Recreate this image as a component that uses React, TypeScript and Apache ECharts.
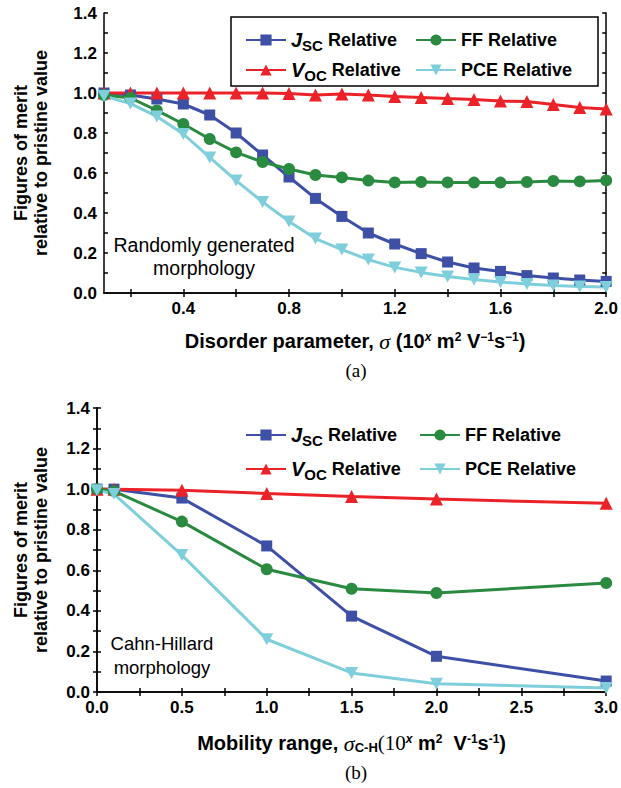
import React, { useEffect, useRef } from 'react';
import * as echarts from 'echarts';

const FONT = 'Liberation Sans, Arial, sans-serif';
const SERIF = 'Liberation Serif, Times New Roman, serif';

// ---- Panel (a): randomly generated morphology ----
const X_A = [0.1, 0.2, 0.3, 0.4, 0.5, 0.6, 0.7, 0.8, 0.9, 1.0, 1.1, 1.2, 1.3, 1.4, 1.5, 1.6, 1.7, 1.8, 1.9, 2.0];
const JSC_A = [1.0, 0.99, 0.97, 0.945, 0.89, 0.8, 0.69, 0.58, 0.473, 0.383, 0.3, 0.245, 0.197, 0.155, 0.125, 0.108, 0.087, 0.075, 0.065, 0.058];
const VOC_A = [1.0, 1.0, 1.0, 1.0, 1.0, 1.0, 1.0, 0.997, 0.99, 0.995, 0.99, 0.983, 0.978, 0.972, 0.967, 0.96, 0.957, 0.942, 0.928, 0.92];
const FF_A = [0.99, 0.975, 0.913, 0.845, 0.77, 0.703, 0.655, 0.62, 0.59, 0.578, 0.562, 0.553, 0.555, 0.553, 0.552, 0.552, 0.555, 0.56, 0.558, 0.563];
const PCE_A = [0.985, 0.947, 0.883, 0.795, 0.678, 0.562, 0.455, 0.358, 0.272, 0.217, 0.167, 0.128, 0.103, 0.083, 0.067, 0.055, 0.045, 0.037, 0.033, 0.03];
const XLABELS_A = [0.4, 0.8, 1.2, 1.6, 2.0];
const XTICKS_A = [0.2, 0.4, 0.6, 0.8, 1.0, 1.2, 1.4, 1.6, 1.8, 2.0];

// ---- Panel (b): Cahn-Hillard morphology ----
const X_B = [0, 0.1, 0.5, 1.0, 1.5, 2.0, 3.0];
const JSC_B = [1.0, 1.0, 0.956, 0.72, 0.374, 0.176, 0.054];
const VOC_B = [1.0, 1.0, 0.995, 0.979, 0.964, 0.951, 0.93];
const FF_B = [1.0, 0.99, 0.84, 0.605, 0.509, 0.488, 0.537];
const PCE_B = [0.995, 0.976, 0.675, 0.26, 0.094, 0.041, 0.02];
const XLABELS_B = [0, 0.5, 1.0, 1.5, 2.0, 2.5, 3.0];
const XTICKS_B = [0, 0.25, 0.5, 0.75, 1.0, 1.25, 1.5, 1.75, 2.0, 2.25, 2.5, 2.75, 3.0];

const YLABELS = [0, 0.2, 0.4, 0.6, 0.8, 1.0, 1.2, 1.4];
const YTICKS = [0, 0.1, 0.2, 0.3, 0.4, 0.5, 0.6, 0.7, 0.8, 0.9, 1.0, 1.1, 1.2, 1.3, 1.4];

const BLUE = '#3d50a6';
const GREEN = '#2a8a40';
const RED = '#ec2229';
const CYAN = '#7ecfdb';
const INV_TRI = 'path://M0,0 L10,0 L5,9 Z';

const zip = (xs: number[], ys: number[]) => xs.map((x, i) => [x, ys[i]]);

const lineStyleAxis = { color: '#000', width: 1.5 };

function xAxes(grid: number, min: number, max: number, labels: number[], ticks: number[], name: string, nameGap: number, rich: any) {
  return [
    {
      type: 'value', gridIndex: grid, min, max, position: 'bottom',
      axisLine: { lineStyle: lineStyleAxis },
      axisTick: { inside: true, length: 4, customValues: ticks, lineStyle: lineStyleAxis },
      axisLabel: { customValues: labels, formatter: (v: number) => v.toFixed(1), fontFamily: FONT, fontWeight: 'bold', fontSize: 17, color: '#000', margin: 7 },
      splitLine: { show: false },
      name, nameLocation: 'middle', nameGap,
      nameTextStyle: { fontFamily: FONT, fontWeight: 'bold', fontSize: 20, color: '#000', rich },
    },
    {
      type: 'value', gridIndex: grid, min, max, position: 'top',
      axisLine: { lineStyle: lineStyleAxis },
      axisTick: { inside: true, length: 4, customValues: ticks, lineStyle: lineStyleAxis },
      axisLabel: { show: false },
      splitLine: { show: false },
    },
  ];
}

function yAxes(grid: number, nameGap: number) {
  return [
    {
      type: 'value', gridIndex: grid, min: 0, max: 1.4, position: 'left',
      axisLine: { lineStyle: lineStyleAxis },
      axisTick: { inside: true, length: 4, customValues: YTICKS, lineStyle: lineStyleAxis },
      axisLabel: { customValues: YLABELS, formatter: (v: number) => v.toFixed(1), fontFamily: FONT, fontWeight: 'bold', fontSize: 17, color: '#000', margin: 7 },
      splitLine: { show: false },
      name: 'Figures of merit\nrelative to pristine value', nameLocation: 'middle', nameGap, nameRotate: 90,
      nameTextStyle: { fontFamily: FONT, fontWeight: 'bold', fontSize: 18, color: '#000', lineHeight: 20 },
    },
    {
      type: 'value', gridIndex: grid, min: 0, max: 1.4, position: 'right',
      axisLine: { lineStyle: lineStyleAxis },
      axisTick: { inside: true, length: 4, customValues: YTICKS, lineStyle: lineStyleAxis },
      axisLabel: { show: false },
      splitLine: { show: false },
    },
  ];
}

function seriesFor(grid: number, xs: number[], jsc: number[], voc: number[], ff: number[], pce: number[]) {
  const base = { type: 'line', xAxisIndex: grid * 2, yAxisIndex: grid * 2, clip: false };
  return [
    { ...base, name: 'JSC', data: zip(xs, jsc), symbol: 'rect', symbolSize: 11, itemStyle: { color: BLUE }, lineStyle: { width: 3, color: BLUE } },
    { ...base, name: 'VOC', data: zip(xs, voc), symbol: 'triangle', symbolSize: 13, itemStyle: { color: RED }, lineStyle: { width: 3, color: RED } },
    { ...base, name: 'FF', data: zip(xs, ff), symbol: 'circle', symbolSize: 12, itemStyle: { color: GREEN }, lineStyle: { width: 3, color: GREEN } },
    { ...base, name: 'PCE', data: zip(xs, pce), symbol: INV_TRI, symbolSize: [13, 12], itemStyle: { color: CYAN }, lineStyle: { width: 3, color: CYAN } },
  ];
}

const LH = 26;
const legendText = {
  fontFamily: FONT, fontWeight: 'bold', fontSize: 18, color: '#000', lineHeight: LH, height: LH,
  rich: {
    i: { fontFamily: FONT, fontStyle: 'italic', fontWeight: 'bold', fontSize: 20, color: '#000', lineHeight: LH },
    sub: { fontFamily: FONT, fontWeight: 'bold', fontSize: 15, color: '#000', lineHeight: 16, padding: [10, 0, 0, 0] },
    n: { fontFamily: FONT, fontWeight: 'bold', fontSize: 18, color: '#000', lineHeight: LH },
  },
};
const legendFormatter = (name: string) => {
  if (name === 'JSC') return '{i|J}{sub|SC}{n| Relative}';
  if (name === 'VOC') return '{i|V}{sub|OC}{n| Relative}';
  return '{n|' + name + ' Relative}';
};
function legend(data: string[], left: number, top: number, gap: number) {
  return {
    data, orient: 'vertical', left, top, itemWidth: 40, itemHeight: 14, itemGap: gap,
    formatter: legendFormatter, textStyle: legendText, selectedMode: false, padding: 0,
  };
}

const nameRich = {
  b: { fontFamily: FONT, fontWeight: 'bold', fontSize: 20, color: '#000' },
  s: { fontFamily: SERIF, fontStyle: 'italic', fontWeight: 'normal', fontSize: 22, color: '#000' },
  t: { fontFamily: SERIF, fontWeight: 'normal', fontSize: 21, color: '#000' },
  sup: { fontFamily: FONT, fontWeight: 'bold', fontSize: 12, color: '#000', padding: [0, 0, 9, 0] },
  supi: { fontFamily: FONT, fontStyle: 'italic', fontWeight: 'bold', fontSize: 12, color: '#000', padding: [0, 0, 9, 0] },
  sub: { fontFamily: FONT, fontWeight: 'bold', fontSize: 13, color: '#000', padding: [9, 0, 0, 0] },
};

const NAME_A = '{b|Disorder parameter, }{s|σ}{b| (10}{supi|x}{b| m}{sup|2}{b| V}{sup|−1}{b|s}{sup|−1}{b|)}';
const NAME_B = '{b|Mobility range, }{s|σ}{sub|C-H}{t|(10}{supi|x}{b| m}{sup|2}{b|  V}{sup|-1}{b|s}{sup|-1}{b|)}';

export default function App() {
  const ref = useRef<HTMLDivElement>(null);
  useEffect(() => {
    const chart = echarts.init(ref.current!, null, { renderer: 'svg' });
    const option: any = {
      animation: false,
      backgroundColor: '#fff',
      grid: [
        { left: 104, top: 13, width: 503, height: 280, containLabel: false },
        { left: 97, top: 408, width: 511, height: 284, containLabel: false },
      ],
      xAxis: [
        ...xAxes(0, 0.1, 2.0, XLABELS_A, XTICKS_A, NAME_A, 37, nameRich),
        ...xAxes(1, 0, 3.0, XLABELS_B, XTICKS_B, NAME_B, 40, nameRich),
      ],
      yAxis: [...yAxes(0, 53), ...yAxes(1, 46)],
      legend: [
        legend(['JSC', 'VOC'], 245, 27, 4),
        legend(['FF', 'PCE'], 415, 27, 4),
        legend(['JSC', 'VOC'], 245, 422, 8),
        legend(['FF', 'PCE'], 419, 422, 8),
      ],
      graphic: [
        { type: 'rect', shape: { x: 231, y: 17, width: 367, height: 69 }, style: { fill: 'none', stroke: '#000', lineWidth: 1.5 }, z: 1 },
        { type: 'text', x: 204, y: 256, style: { text: 'Randomly generated\nmorphology', fontFamily: FONT, fontSize: 19.5, fill: '#000', align: 'center', verticalAlign: 'middle', lineHeight: 23 }, z: 5 },
        { type: 'text', x: 162, y: 655, style: { text: 'Cahn-Hillard\nmorphology', fontFamily: FONT, fontSize: 18.5, fill: '#000', align: 'center', verticalAlign: 'middle', lineHeight: 24 }, z: 5 },
        { type: 'text', x: 356, y: 370, style: { text: '(a)', fontFamily: SERIF, fontSize: 19, fill: '#000', align: 'center', verticalAlign: 'middle' } },
        { type: 'text', x: 356, y: 772, style: { text: '(b)', fontFamily: SERIF, fontSize: 19, fill: '#000', align: 'center', verticalAlign: 'middle' } },
      ],
      series: [
        ...seriesFor(0, X_A, JSC_A, VOC_A, FF_A, PCE_A),
        ...seriesFor(1, X_B, JSC_B, VOC_B, FF_B, PCE_B),
      ],
    };
    chart.setOption(option);
    return () => chart.dispose();
  }, []);
  return <div ref={ref} style={{ position: 'absolute', left: 0, top: 0, width: 621, height: 788 }} />;
}
